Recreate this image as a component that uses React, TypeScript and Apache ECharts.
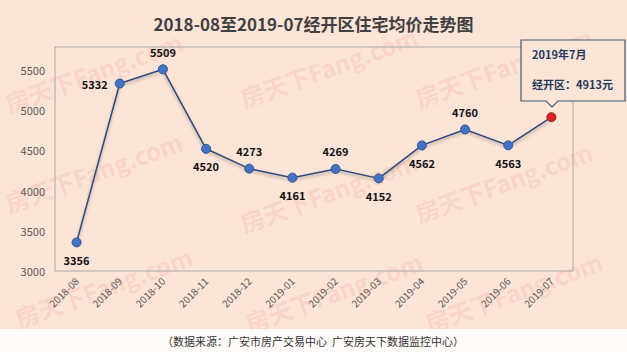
import React, { useEffect, useRef } from "react";
import * as echarts from "echarts";

const categories = ["2018-08", "2018-09", "2018-10", "2018-11", "2018-12", "2019-01", "2019-02", "2019-03", "2019-04", "2019-05", "2019-06", "2019-07"];
const prices = [3356, 5332, 5509, 4520, 4273, 4161, 4269, 4152, 4562, 4760, 4563, 4913];
const labelPos = ["bottom", "left", "top", "bottom", "top", "bottom", "top", "bottom", "bottom", "top", "bottom", "none"];
const titleText = "2018-08至2019-07经开区住宅均价走势图";
const sourceText = "（数据来源：广安市房产交易中心  广安房天下数据监控中心）";
const calloutMonth = "2019年7月";
const calloutArea = "经开区：";
const calloutUnit = "元";
const watermarkText = "房天下Fang.com";

const CJK = '"Noto Sans CJK SC", "Noto Sans", sans-serif';

export default function App() {
  const ref = useRef<HTMLDivElement>(null);
  useEffect(() => {
    if (!ref.current) return;
    const chart = echarts.init(ref.current, undefined, { renderer: "svg" });
    const last = prices[prices.length - 1];
    const data = prices.map((v, i) => {
      const isLast = i === prices.length - 1;
      const pos = labelPos[i];
      return {
        value: v,
        itemStyle: isLast
          ? { color: "#d9212b", borderColor: "#8f1b1b", borderWidth: 1 }
          : undefined,
        label: pos === "none" ? { show: false } : { show: true, position: pos as any },
      };
    });
    const wm = (x: number, y: number) => ({
      type: "text",
      x,
      y,
      rotation: (20 * Math.PI) / 180,
      silent: true,
      z: -1,
      style: {
        text: watermarkText,
        fill: "rgba(230,110,110,0.15)",
        font: `bold 24px ${CJK}`,
        textVerticalAlign: "bottom",
      },
    });
    chart.setOption({
      animation: false,
      backgroundColor: "#fce4d6",
      title: {
        text: titleText,
        left: "center",
        top: 10,
        textStyle: { fontFamily: CJK, fontSize: 17, fontWeight: "bold", color: "#404040" },
      },
      grid: {
        left: 55,
        right: 54,
        top: 47,
        bottom: 81,
        show: true,
        borderColor: "#a6a6a6",
        borderWidth: 1,
        backgroundColor: "transparent",
      },
      xAxis: {
        type: "category",
        data: categories,
        boundaryGap: true,
        axisLine: { show: false },
        axisTick: { show: false },
        axisLabel: {
          rotate: 45,
          color: "#595959",
          fontSize: 10,
          fontFamily: CJK,
          margin: 8,
          interval: 0,
        },
      },
      yAxis: {
        type: "value",
        min: 3000,
        max: 5786,
        interval: 500,
        splitLine: { show: false },
        axisLine: { show: false },
        axisTick: { show: false },
        axisLabel: {
          color: "#595959",
          fontSize: 11,
          fontFamily: CJK,
          margin: 10,
          formatter: (v: number) => (v > 5500 ? "" : String(v)),
        },
      },
      series: [
        {
          type: "line",
          data,
          symbol: "circle",
          symbolSize: 9,
          lineStyle: {
            color: "#2e4a7a",
            width: 1.5,
            shadowColor: "rgba(0,0,0,0.3)",
            shadowBlur: 3,
            shadowOffsetY: 2,
          },
          itemStyle: { color: "#4472c4", borderColor: "#2f528f", borderWidth: 1 },
          label: {
            show: true,
            color: "#111",
            fontWeight: "bold",
            fontSize: 11,
            fontFamily: CJK,
            distance: 7,
          },
        },
      ],
      graphic: [
        wm(10, 115),
        wm(245, 110),
        wm(420, 110),
        wm(10, 215),
        wm(245, 235),
        wm(420, 225),
        wm(20, 330),
        wm(250, 335),
        wm(430, 335),
        {
          type: "rect",
          shape: { x: 0, y: 329, width: 627, height: 23 },
          style: { fill: "rgba(255,255,255,0.85)" },
          z: 0,
        },
        {
          type: "text",
          x: 313,
          y: 341,
          style: {
            text: sourceText,
            fill: "#333333",
            font: `11px ${CJK}`,
            textAlign: "center",
            textVerticalAlign: "middle",
          },
        },
        {
          type: "polygon",
          shape: {
            points: [
              [521, 40],
              [625, 40],
              [625, 101],
              [558, 101],
              [552, 107],
              [546, 101],
              [521, 101],
            ],
          },
          style: { fill: "#fce4d6", stroke: "#3f5870", lineWidth: 1.2 },
          z: 10,
        },
        {
          type: "text",
          x: 532,
          y: 54,
          z: 11,
          style: {
            text: calloutMonth,
            fill: "#1f3a5f",
            font: `bold 11px ${CJK}`,
            textVerticalAlign: "middle",
          },
        },
        {
          type: "text",
          x: 532,
          y: 84,
          z: 11,
          style: {
            text: calloutArea + last + calloutUnit,
            fill: "#1f3a5f",
            font: `bold 11px ${CJK}`,
            textVerticalAlign: "middle",
          },
        },
      ],
    });
    return () => chart.dispose();
  }, []);
  return (
    <div
      ref={ref}
      style={{ position: "fixed", left: 0, top: 0, width: 627, height: 352 }}
    />
  );
}
